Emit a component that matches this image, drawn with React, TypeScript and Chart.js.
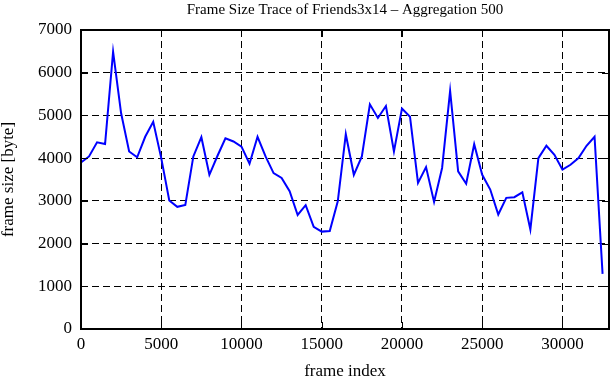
import React, { useEffect, useRef } from "react";
import { Chart, registerables } from "chart.js";

Chart.register(...registerables);

const chartTitle = "Frame Size Trace of Friends3x14 – Aggregation 500";
const xAxisLabel = "frame index";
const yAxisLabel = "frame size [byte]";

const frameIndex: number[] = [
  0, 500, 1000, 1500, 2000, 2500, 3000, 3500, 4000, 4500,
  5000, 5500, 6000, 6500, 7000, 7500, 8000, 8500, 9000, 9500,
  10000, 10500, 11000, 11500, 12000, 12500, 13000, 13500, 14000, 14500,
  15000, 15500, 16000, 16500, 17000, 17500, 18000, 18500, 19000, 19500,
  20000, 20500, 21000, 21500, 22000, 22500, 23000, 23500, 24000, 24500,
  25000, 25500, 26000, 26500, 27000, 27500, 28000, 28500, 29000, 29500,
  30000, 30500, 31000, 31500, 32000, 32500,
];

const frameSize: number[] = [
  3900, 4040, 4370, 4330, 6490, 5050, 4155, 4020, 4500, 4850,
  4000, 3010, 2860, 2905, 4040, 4490, 3610, 4050, 4465, 4390,
  4270, 3870, 4500, 4040, 3650, 3535, 3225, 2670, 2900, 2390,
  2280, 2295, 2990, 4560, 3610, 4040, 5260, 4940, 5220, 4155,
  5160, 4970, 3420, 3790, 2975, 3770, 5575, 3690, 3400, 4325,
  3610, 3265, 2680, 3070, 3085, 3200, 2330, 4000, 4290, 4080,
  3730, 3845, 4000, 4290, 4500, 1290,
];

const xTicks: number[] = [0, 5000, 10000, 15000, 20000, 25000, 30000];
const yTicks: number[] = [0, 1000, 2000, 3000, 4000, 5000, 6000, 7000];

const xMin = 0;
const xMax = 32900;
const yMin = 0;
const yMax = 7000;

const FONT = "'Liberation Serif', 'Times New Roman', serif";

const framePlugin = {
  id: "gnuplotFrame",
  afterDraw(chart: any) {
    const { ctx, chartArea, scales } = chart;
    const { left, right, top, bottom } = chartArea;
    ctx.save();
    ctx.strokeStyle = "#000";
    ctx.lineWidth = 1;
    ctx.setLineDash([]);
    const tl = 7;
    ctx.beginPath();
    for (const t of scales.x.ticks) {
      const px = Math.round(scales.x.getPixelForValue(t.value)) + 0.5;
      ctx.moveTo(px, bottom);
      ctx.lineTo(px, bottom - tl);
      ctx.moveTo(px, top);
      ctx.lineTo(px, top + tl);
    }
    for (const t of scales.y.ticks) {
      const py = Math.round(scales.y.getPixelForValue(t.value)) + 0.5;
      ctx.moveTo(left, py);
      ctx.lineTo(left + tl, py);
      ctx.moveTo(right, py);
      ctx.lineTo(right - tl, py);
    }
    ctx.stroke();
    ctx.lineWidth = 2;
    ctx.strokeRect(left, top, right - left, bottom - top);
    ctx.fillStyle = "#000";
    ctx.font = `15px ${FONT}`;
    ctx.textAlign = "center";
    ctx.textBaseline = "middle";
    ctx.fillText(chartTitle, (left + right) / 2, 10);
    ctx.restore();
  },
};

export default function App() {
  const canvasRef = useRef<HTMLCanvasElement | null>(null);

  useEffect(() => {
    document.body.style.margin = "0";
    const canvas = canvasRef.current;
    if (!canvas) return;
    const chart = new Chart(canvas, {
      type: "line",
      data: {
        datasets: [
          {
            data: frameIndex.map((x, i) => ({ x, y: frameSize[i] })),
            borderColor: "#0000ff",
            borderWidth: 2,
            pointRadius: 0,
            tension: 0,
            fill: false,
          },
        ],
      },
      options: {
        animation: false,
        responsive: false,
        devicePixelRatio: 1,
        layout: { padding: { top: 30, right: 2, left: 0, bottom: 0 } },
        plugins: {
          legend: { display: false },
          title: { display: false },
          tooltip: { enabled: false },
        },
        scales: {
          x: {
            type: "linear",
            min: xMin,
            max: xMax,
            border: { display: false, dash: [7, 4] },
            grid: {
              color: "#000",
              lineWidth: 1,
              drawTicks: false,
            },
            afterBuildTicks(scale: any) {
              scale.ticks = xTicks.map((v) => ({ value: v }));
            },
            ticks: {
              color: "#000",
              padding: 5,
              maxRotation: 0,
              autoSkip: false,
              callback: (v: any) => String(v),
              font: { family: FONT, size: 17 },
            },
            title: {
              display: true,
              text: xAxisLabel,
              color: "#000",
              padding: 0,
              font: { family: FONT, size: 17, lineHeight: 1 },
            },
            afterFit(scale: any) {
              scale.height = 51;
            },
          },
          y: {
            type: "linear",
            min: yMin,
            max: yMax,
            border: { display: false, dash: [7, 4] },
            grid: {
              color: "#000",
              lineWidth: 1,
              drawTicks: false,
            },
            afterBuildTicks(scale: any) {
              scale.ticks = yTicks.map((v) => ({ value: v }));
            },
            ticks: {
              color: "#000",
              padding: 9,
              autoSkip: false,
              callback: (v: any) => String(v),
              font: { family: FONT, size: 17 },
            },
            title: {
              display: true,
              text: yAxisLabel,
              color: "#000",
              padding: 0,
              font: { family: FONT, size: 17, lineHeight: 1 },
            },
            afterFit(scale: any) {
              scale.width = 81;
            },
          },
        },
      },
      plugins: [framePlugin],
    } as any);
    return () => chart.destroy();
  }, []);

  return (
    <div style={{ width: 611, height: 380 }}>
      <canvas ref={canvasRef} width={611} height={380} style={{ display: "block" }} />
    </div>
  );
}
